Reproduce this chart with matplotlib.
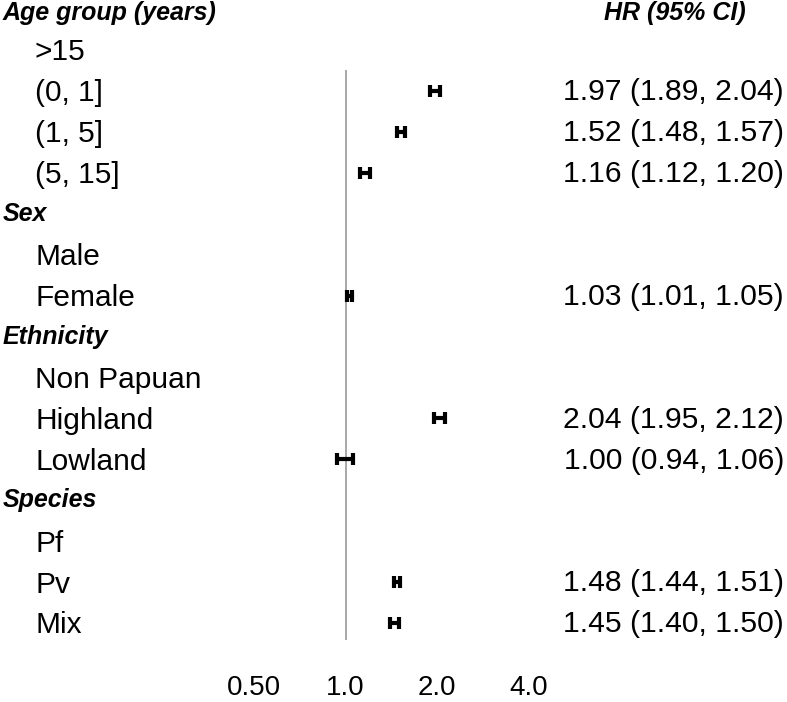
import matplotlib
matplotlib.use("Agg")
import matplotlib.pyplot as plt
import matplotlib.transforms as mtransforms
import numpy as np

plt.rcParams['font.family'] = ['Liberation Sans', 'DejaVu Sans']

# Data
group_names = ["Age group (years)", "Sex", "Ethnicity", "Species"]
group_levels = [[">15", "(0, 1]", "(1, 5]", "(5, 15]"],
                ["Male", "Female"],
                ["Non Papuan", "Highland", "Lowland"],
                ["Pf", "Pv", "Mix"]]
hr = [np.nan, 1.97, 1.52, 1.16,
      np.nan, 1.03,
      np.nan, 2.04, 1.00,
      np.nan, 1.48, 1.45]
lo = [np.nan, 1.89, 1.48, 1.12,
      np.nan, 1.01,
      np.nan, 1.95, 0.94,
      np.nan, 1.44, 1.40]
hi = [np.nan, 2.04, 1.57, 1.20,
      np.nan, 1.05,
      np.nan, 2.12, 1.06,
      np.nan, 1.51, 1.50]
x_ticks = [0.5, 1.0, 2.0, 4.0]
x_tick_labels = ["0.50", "1.0", "2.0", "4.0"]

W, H = 787, 702
fig = plt.figure(figsize=(W / 100, H / 100), dpi=100)
ax = fig.add_axes([0, 0, 1, 1])
ax.set_xscale('log', base=2)
ax.set_xlim(2 ** -3.776, 2 ** 4.825)
ax.set_ylim(15.93, -1.222)
ax.axis('off')

trans = mtransforms.blended_transform_factory(ax.transAxes, ax.transData)

# lay out rows: group header row then its levels
rows = []
y = -1
for gi, (g, levels) in enumerate(zip(group_names, group_levels)):
    gy = y + 0.1 if gi == 0 else y
    ax.text(3 / W, gy, g, transform=trans, ha='left', va='center',
            fontsize=18, fontweight='bold', fontstyle='italic')
    y += 1
    for lev in levels:
        ax.text(35 / W, y + 0.06, lev, transform=trans, ha='left', va='center', fontsize=21.5)
        rows.append(y)
        y += 1

ax.text(675 / W, -0.9, "HR (95% CI)", transform=trans, ha='center', va='center',
        fontsize=18, fontweight='bold', fontstyle='italic')

rows = np.array(rows, dtype=float)
hr = np.array(hr)
lo = np.array(lo)
hi = np.array(hi)

ax.vlines(1.0, 0.49, 14.41, color='#999999', lw=1.2)

ok = ~np.isnan(hr)
ax.errorbar(hr[ok], rows[ok], xerr=[hr[ok] - lo[ok], hi[ok] - hr[ok]],
            fmt='none', ecolor='black', elinewidth=3, capsize=4.2, capthick=3)

for r, h, l, u in zip(rows, hr, lo, hi):
    if np.isnan(h):
        continue
    ax.text(784 / W, r + 0.03, f"{h:.2f} ({l:.2f}, {u:.2f})", transform=trans,
            ha='right', va='center', fontsize=21.7)

for t, lab in zip(x_ticks, x_tick_labels):
    ax.text(t, 15.6, lab, ha='center', va='center', fontsize=20)

fig.savefig("out.png", dpi=100)
